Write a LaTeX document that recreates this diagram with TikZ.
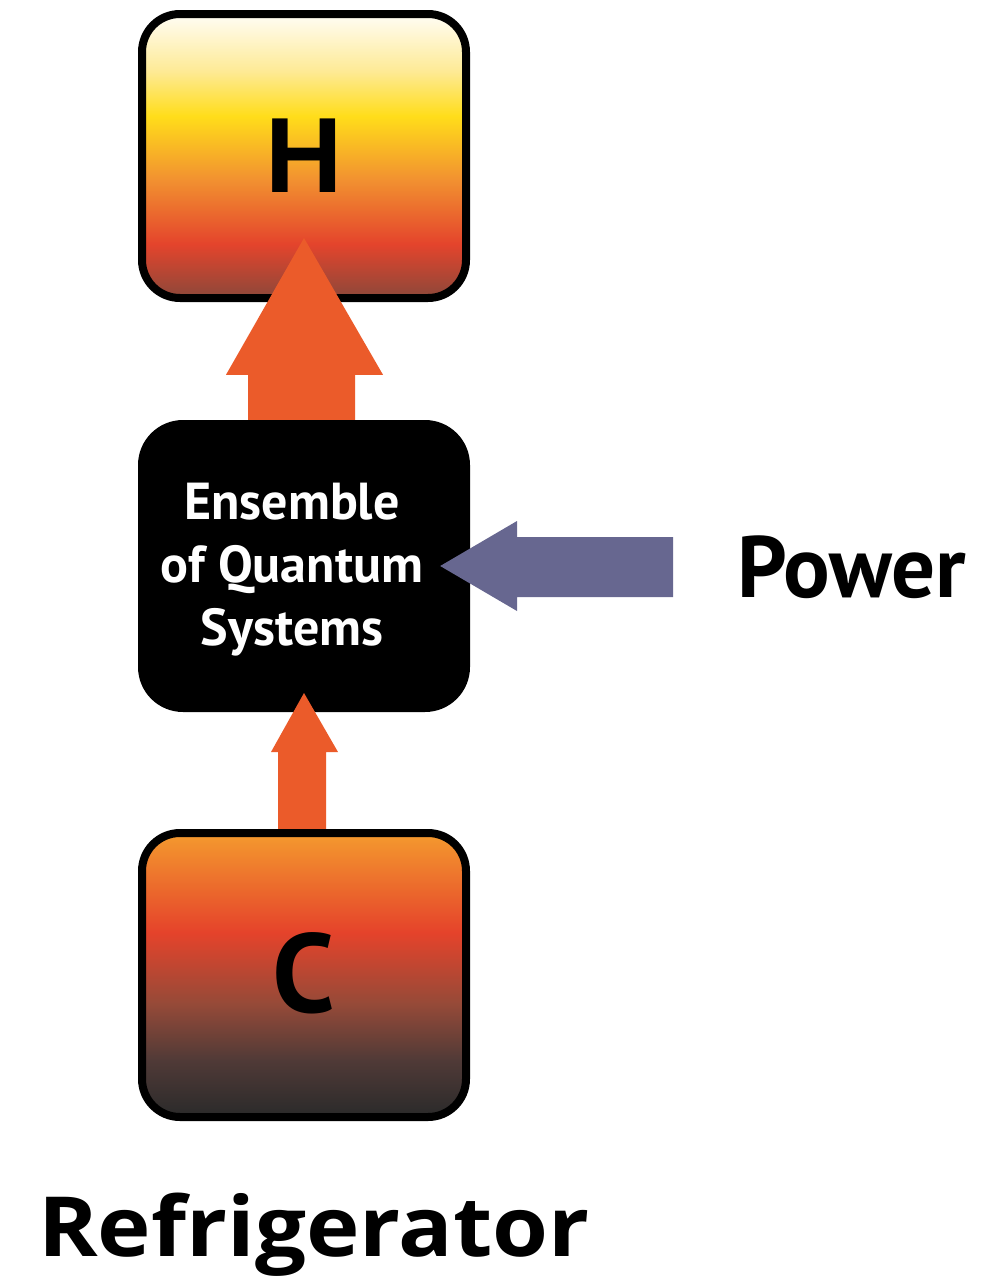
\documentclass[tikz,border=0pt]{standalone}
\usepackage{fontspec}
\usetikzlibrary{calc}
\newfontfamily\ptfont{PT Sans}
\newfontfamily\lsfont{Liberation Sans}
\newfontfamily\osfont{Open Sans}[FakeStretch=1.09]
\definecolor{arrOrange}{RGB}{235,91,42}
\definecolor{arrPurple}{RGB}{103,103,144}
\pgfdeclareverticalshading{hotshade}{100bp}{%
  color(0bp)=(rgb,255:red,140;green,72;blue,58);
  color(25bp)=(rgb,255:red,140;green,72;blue,58);
  color(34.5bp)=(rgb,255:red,228;green,68;blue,44);
  color(46bp)=(rgb,255:red,242;green,146;blue,48);
  color(57bp)=(rgb,255:red,255;green,221;blue,26);
  color(65bp)=(rgb,255:red,254;green,234;blue,150);
  color(75bp)=(rgb,255:red,255;green,253;blue,245);
  color(100bp)=(rgb,255:red,255;green,253;blue,245)}
\pgfdeclareverticalshading{coldshade}{100bp}{%
  color(0bp)=(rgb,255:red,42;green,42;blue,42);
  color(25bp)=(rgb,255:red,42;green,42;blue,42);
  color(35bp)=(rgb,255:red,80;green,58;blue,55);
  color(45bp)=(rgb,255:red,150;green,74;blue,56);
  color(57.5bp)=(rgb,255:red,229;green,67;blue,43);
  color(75bp)=(rgb,255:red,244;green,154;blue,46);
  color(100bp)=(rgb,255:red,244;green,154;blue,46)}
\begin{document}
\begin{tikzpicture}[x=1pt,y=-1pt,
  resbox/.style={rectangle, rounded corners=38pt, draw=black, line width=8pt,
    minimum width=324pt, minimum height=284pt, inner sep=0pt},
  enstext/.style={font=\ptfont\bfseries\fontsize{52}{52}\selectfont, text=white, inner sep=0pt, anchor=base}]
\useasboundingbox (0,0) rectangle (1003,1277);
% hot reservoir
\node[resbox, shading=hotshade] (hot) at (304,156) {};
\node[font=\lsfont\bfseries\fontsize{107}{107}\selectfont, inner sep=0pt, anchor=base] (hlab) at (304,192) {H};
% ensemble
\node[rectangle, rounded corners=45pt, fill=black, minimum width=332pt, minimum height=292pt, inner sep=0pt] (ens) at (304,566) {};
% arrow ensemble -> hot
\coordinate (hottip) at (304,238);
\fill[arrOrange] ($(ens.north)+(-56,0)$) -- ++(0,-45) -- ++(-22,0) -- (hottip) -- ($(ens.north)+(79,-45)$) -- ++(-28,0) -- ($(ens.north)+(51,0)$) -- cycle;
% arrow cold -> ensemble
\coordinate (ctop) at (304,829);
\coordinate (enstip) at (304,693);
\fill[arrOrange] ($(ctop)+(-26,3)$) -- ($(ctop)+(-26,-77)$) -- ($(ctop)+(-33,-77)$) -- (enstip) -- ($(ctop)+(34,-77)$) -- ($(ctop)+(22,-77)$) -- ($(ctop)+(22,3)$) -- cycle;
% cold reservoir
\node[resbox, shading=coldshade] (cold) at (304,975) {};
\node[font=\ptfont\bfseries\fontsize{112}{112}\selectfont, inner sep=0pt, anchor=base] (clab) at (304,1012) {C};
% text in ensemble
\node[enstext] (e1) at (292,519) {Ensemble};
\node[enstext] (e2) at (292,582) {of Quantum};
\node[enstext] (e3) at (292,645) {Systems};
% power
\node[font=\ptfont\bfseries\fontsize{87}{87}\selectfont, inner sep=0pt, anchor=base west] (pow) at (737,597) {Power};
\coordinate (powtip) at ($(ens.east)+(-30,0)$);
\fill[arrPurple] (673,537) -- (517,537) -- (517,521) -- (powtip) -- (517,611) -- (517,597) -- (673,597) -- cycle;
% title
\node[font=\osfont\bfseries\fontsize{83}{83}\selectfont, inner sep=0pt, anchor=base west] (title) at (38,1256) {Refrigerator};
\end{tikzpicture}
\end{document}
